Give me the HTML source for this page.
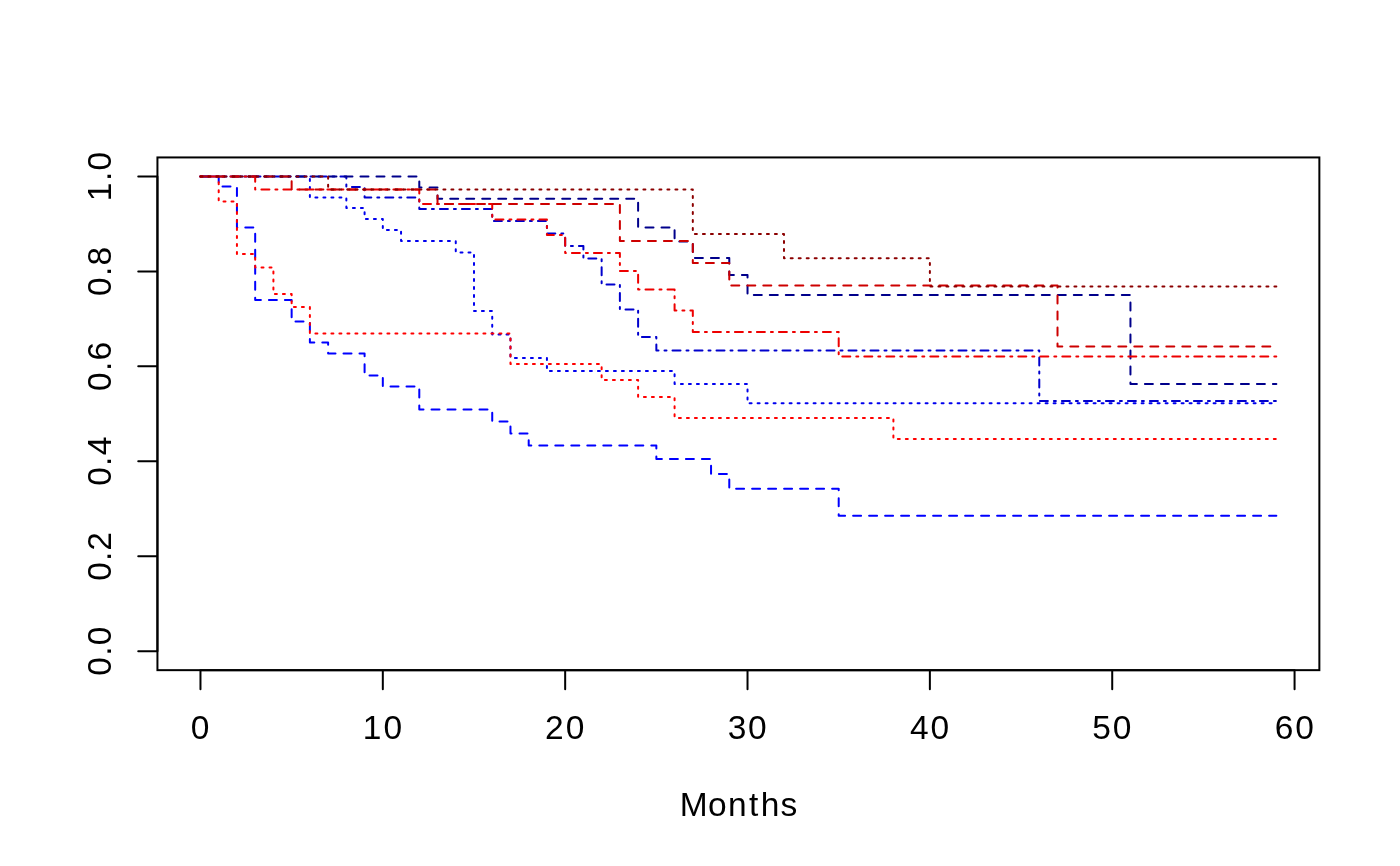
<!DOCTYPE html>
<html><head><meta charset="utf-8"><style>
html,body{margin:0;padding:0;background:#fff;width:1400px;height:866px;overflow:hidden}
svg{display:block;will-change:transform}
text{font-family:"Liberation Sans",sans-serif;font-size:33.5px;fill:#000}
</style></head><body>
<svg width="1400" height="866" viewBox="0 0 1400 866">
<rect x="0" y="0" width="1400" height="866" fill="#fff"/>
<g fill="none" stroke-width="2" stroke-linecap="round" stroke-linejoin="round">
<path d="M200.47 176.43H218.70V186.40H236.94V227.60H255.18V300.00H291.64V321.40H309.88V342.60H328.12V353.40H364.59V375.40H382.82V386.40H419.29V409.40H492.23V421.40H510.47V433.40H528.70V445.60H656.35V459.00H711.05V474.00H729.28V488.80H838.70V515.80H1276.34" stroke="#0000FF" stroke-dasharray="8 8"/>
<path d="M200.47 176.43H309.88V197.50H346.35V208.00H364.59V219.00H382.82V230.00H401.05V241.00H455.76V252.40H474.00V311.00H492.23V334.40H510.47V358.00H546.93V371.00H674.58V384.00H747.52V403.30H1276.34" stroke="#0000EE" stroke-dasharray="2 6"/>
<path d="M200.47 176.43H346.35V187.00H364.59V197.60H419.29V209.00H492.23V221.00H546.93V233.60H565.17V246.00H583.40V258.60H601.64V284.40H619.88V309.40H638.11V337.00H656.35V350.40H1039.28V401.00H1276.34" stroke="#0000CD" stroke-dasharray="2 6 8 6"/>
<path d="M200.47 176.43H419.29V187.40H437.52V198.70H638.11V227.40H674.58V241.60H692.81V258.00H729.28V275.00H747.52V295.10H1130.45V384.00H1276.34" stroke="#00008B" stroke-dasharray="8 8"/>
<path d="M200.47 176.43H218.70V201.40H236.94V254.00H255.18V267.40H273.41V294.00H291.64V307.00H309.88V333.50H510.47V364.00H601.64V380.00H638.11V397.00H674.58V418.00H893.40V439.10H1276.34" stroke="#FF0000" stroke-dasharray="2 6"/>
<path d="M200.47 176.43H255.18V189.50H419.29V203.90H492.23V219.50H546.93V235.00H565.17V253.00H619.88V271.00H638.11V289.40H674.58V310.50H692.81V332.00H838.70V356.60H1276.34" stroke="#EE0000" stroke-dasharray="2 6 8 6"/>
<path d="M200.47 176.43H291.64V189.50H437.52V203.90H619.88V241.00H692.81V263.00H729.28V285.60H1057.51V346.60H1276.34" stroke="#CD0000" stroke-dasharray="8 8"/>
<path d="M200.47 176.43H328.12V189.50H692.81V234.00H783.99V258.20H929.87V286.50H1276.34" stroke="#8B0000" stroke-dasharray="2 6"/>
</g>
<rect x="157.44" y="157.44" width="1161.92" height="512.72" fill="none" stroke="#000" stroke-width="2"/>
<path d="M200.47 670.16V689.36M382.82 670.16V689.36M565.17 670.16V689.36M747.52 670.16V689.36M929.87 670.16V689.36M1112.22 670.16V689.36M1294.57 670.16V689.36M157.44 651.17H138.24M157.44 556.22H138.24M157.44 461.27H138.24M157.44 366.33H138.24M157.44 271.38H138.24M157.44 176.43H138.24M200.47 670.16H1294.57M157.44 651.17V176.43" fill="none" stroke="#000" stroke-width="2" stroke-linecap="round"/>
<g>
<text x="190.85" y="739">0</text>
<text x="362.85" y="739">1</text>
<text x="383.38" y="739">0</text>
<text x="544.95" y="739">2</text>
<text x="565.73" y="739">0</text>
<text x="727.76" y="739">3</text>
<text x="748.08" y="739">0</text>
<text x="910.06" y="739">4</text>
<text x="930.43" y="739">0</text>
<text x="1092.29" y="739">5</text>
<text x="1112.78" y="739">0</text>
<text x="1274.77" y="739">6</text>
<text x="1295.13" y="739">0</text>
<text x="679.78" y="816">M</text>
<text x="708.01" y="816">o</text>
<text x="728.00" y="816">n</text>
<text x="748.92" y="816">t</text>
<text x="760.78" y="816">h</text>
<text x="780.40" y="816">s</text>
<text transform="translate(111 651.17) rotate(-90)" x="-24.59" y="0">0</text>
<text transform="translate(111 651.17) rotate(-90)" x="-4.67" y="0">.</text>
<text transform="translate(111 651.17) rotate(-90)" x="5.94" y="0">0</text>
<text transform="translate(111 556.22) rotate(-90)" x="-24.59" y="0">0</text>
<text transform="translate(111 556.22) rotate(-90)" x="-4.67" y="0">.</text>
<text transform="translate(111 556.22) rotate(-90)" x="5.52" y="0">2</text>
<text transform="translate(111 461.27) rotate(-90)" x="-24.59" y="0">0</text>
<text transform="translate(111 461.27) rotate(-90)" x="-4.67" y="0">.</text>
<text transform="translate(111 461.27) rotate(-90)" x="5.94" y="0">4</text>
<text transform="translate(111 366.33) rotate(-90)" x="-24.59" y="0">0</text>
<text transform="translate(111 366.33) rotate(-90)" x="-4.67" y="0">.</text>
<text transform="translate(111 366.33) rotate(-90)" x="5.94" y="0">6</text>
<text transform="translate(111 271.38) rotate(-90)" x="-24.59" y="0">0</text>
<text transform="translate(111 271.38) rotate(-90)" x="-4.67" y="0">.</text>
<text transform="translate(111 271.38) rotate(-90)" x="5.94" y="0">8</text>
<text transform="translate(111 176.43) rotate(-90)" x="-24.76" y="0">1</text>
<text transform="translate(111 176.43) rotate(-90)" x="-4.67" y="0">.</text>
<text transform="translate(111 176.43) rotate(-90)" x="5.94" y="0">0</text>
</g>
</svg>
</body></html>
